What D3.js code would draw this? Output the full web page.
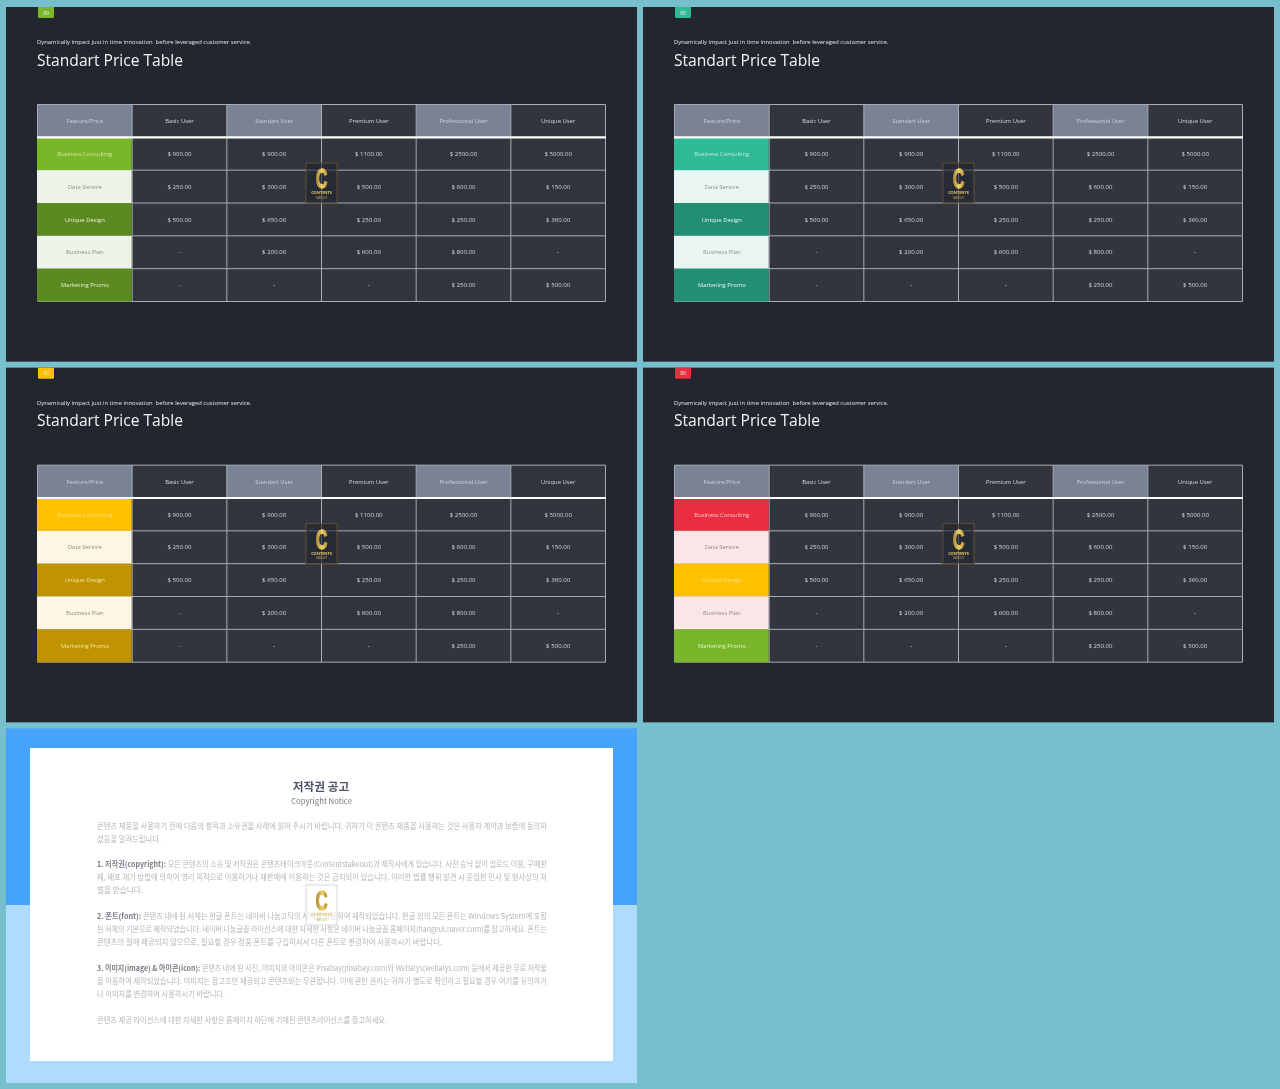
<!DOCTYPE html>
<html>
<head>
<meta charset="utf-8">
<script src="https://cdn.jsdelivr.net/npm/d3@7"></script>
<style>
  html, body { margin: 0; padding: 0; background: #77bfcd; }
  svg { display: block; }
  text { font-family: "Open Sans", sans-serif; }
  .kr text { font-family: "Noto Sans CJK KR", sans-serif; }
  .kr text.en { font-family: "Open Sans", sans-serif; }
  text.logoC { font-family: "Liberation Sans", sans-serif; }
</style>
</head>
<body>
<div id="chart"></div>
<script>
const width = 1280;
const height = 1089;

// table content
const columns = ["Feature/Price", "Basic User", "Standart User", "Premium User", "Professional User", "Unique User"];
const features = ["Business Consulting", "Data Service", "Unique Design", "Business Plan", "Marketing Promo"];
const basicUser = [900, 250, 500, null, null];
const standartUser = [900, 300, 650, 200, null];
const premiumUser = [1100, 500, 250, 600, null];
const professionalUser = [2500, 600, 250, 800, 250];
const uniqueUser = [5000, 150, 360, null, 500];
const priceSeries = [basicUser, standartUser, premiumUser, professionalUser, uniqueUser];

// one colour set per slide
const badgeColors = ["#7ab62a", "#2fba96", "#ffc000", "#ea2f3f"];
const rowColors = [
  ["#7ab62a", "#edf3e8", "#5c8a22", "#edf3e8", "#5c8a22"],
  ["#2fba96", "#e9f5f1", "#248f75", "#e9f5f1", "#248f75"],
  ["#ffc000", "#fff5e5", "#c09300", "#fff5e5", "#c09300"],
  ["#ea2f3f", "#fbe5e6", "#ffc000", "#fbe5e6", "#7ab62a"]
];
const rowTextColors = [
  ["#cfe59a", "#8b9189", "#e6efd2", "#8b9189", "#e6efd2"],
  ["#bfeadd", "#8b9189", "#e0f2ec", "#8b9189", "#e0f2ec"],
  ["#ffe27a", "#8f8b80", "#f5e2a0", "#8f8b80", "#f5e2a0"],
  ["#fbc3c8", "#8f8b8b", "#ffe27a", "#8f8b8b", "#e6efd2"]
];

const subtitle = "Dynamically impact just in time innovation  before leveraged customer service.";
const title = "Standart Price Table";

// notice slide text, line by line as broken in the picture
const noticeLines = [
  ["콘텐츠 제품을 사용하기 전에 다음의 항목과 소유권을 사례에 읽어 주시기 바랍니다. 귀하가 이 콘텐츠 제품을 사용하는 것은 사용자 계약과 보증에 동의하", 826, 450],
  ["셨음을 알려드립니다.", 839, 64],
  ["1. 저작권(copyright):|모든 콘텐츠의 소유 및 저작권은 콘텐츠테이크아웃(Contentstakeout)과 제작사에게 있습니다. 사전 승낙 없이 업로드 이용, 구매한", 864, 450],
  ["제, 배포 재가 방법에 의하여 영리 목적으로 이용하거나 재판매에 이용하는 것은 금지되어 있습니다. 이러한 법률 행위 발견 시 준엄한 민사 및 형사상의 처", 877, 450],
  ["벌을 받습니다.", 890, 46],
  ["2. 폰트(font):|콘텐츠 내에 된 서체는 한글 폰트는 네이버 나눔고딕의 서체를 사용하여 제작되었습니다. 한글 외의 모든 폰트는 Windows System에 포함", 916, 450],
  ["된 서체의 기본으로 제작되었습니다. 네이버 나눔글꼴 라이선스에 대한 자세한 사항은 네이버 나눔글꼴 홈페이지(hangeul.naver.com)를 참고하세요. 폰트는", 929, 450],
  ["콘텐츠의 절에 제공되지 않으므로, 필요할 경우 정품 폰트를 구입하셔서 다른 폰트로 변경하여 사용하시기 바랍니다.", 942, 345],
  ["3. 이미지(image) & 아이콘(icon):|콘텐츠 내에 된 사진, 이미지와 아이콘은 Pixabay(pixabay.com)와 Webalys(webalys.com) 등에서 제공한 무료 저작물", 968, 450],
  ["을 이용하여 제작되었습니다. 이미지는 참고조만 제공되고 콘텐츠와는 무관합니다. 이에 관한 권리는 귀하가 별도로 확인하고 필요할 경우 여기를 유의하거", 981, 450],
  ["나 이미지를 변경하여 사용하시기 바랍니다.", 994, 128],
  ["콘텐츠 제공 라이선스에 대한 자세한 사항은 홈페이지 하단에 기재된 콘텐츠라이선스를 참고하세요.", 1020, 290]
];

const svg = d3.select("#chart")
  .append("svg")
  .attr("width", width)
  .attr("height", height);

const defs = svg.append("defs");
defs.append("filter").attr("id", "soft")
  .append("feGaussianBlur").attr("stdDeviation", 0.3);
defs.append("filter").attr("id", "softer")
  .append("feGaussianBlur").attr("stdDeviation", 0.42);

const goldGrad = defs.append("linearGradient").attr("id", "gold")
  .attr("x1", 0).attr("x2", 1).attr("y1", 0).attr("y2", 0);
goldGrad.append("stop").attr("offset", "0%").attr("stop-color", "#a67f2c");
goldGrad.append("stop").attr("offset", "55%").attr("stop-color", "#f0d36a");
goldGrad.append("stop").attr("offset", "100%").attr("stop-color", "#b48c32");

svg.append("rect").attr("width", width).attr("height", height).attr("fill", "#77bfcd");

// slide grid
const slideX = d3.scaleBand().domain([0, 1]).range([6, 1274]).paddingInner(6 / 637);
const slideY = d3.scaleBand().domain([0, 1, 2]).range([7, 1083]).paddingInner(6 / 361);

// table scales, relative to a slide
const xScale = d3.scaleBand().domain(columns).range([31.5, 599.5]);
const yScale = d3.scaleBand().domain(["header"].concat(features)).range([97.5, 294.5]);
const priceText = v => v === null ? "-" : "$ " + d3.format(".2f")(v);

function drawLogo(g, cx, top, light) {
  const logo = g.append("g").attr("transform", `translate(${cx},${top})`);
  logo.append("rect")
    .attr("x", -15.5).attr("y", 0).attr("width", 31).attr("height", 40)
    .attr("fill", light ? "#ffffff" : "#23262e").attr("fill-opacity", light ? 0.6 : 0.6)
    .attr("stroke", light ? "#d8d8d8" : "#5f5130").attr("stroke-width", 1);
  logo.append("text")
    .attr("class", "logoC")
    .attr("transform", "translate(0,25) scale(0.6,1)")
    .attr("text-anchor", "middle")
    .attr("font-size", 27).attr("font-weight", 700)
    .attr("fill", "url(#gold)")
    .attr("stroke", "url(#gold)").attr("stroke-width", 1.4)
    .text("C");
  logo.append("text")
    .attr("class", "en")
    .attr("x", 0).attr("y", 31).attr("text-anchor", "middle")
    .attr("font-size", 3.9).attr("font-weight", 700)
    .attr("fill", "#e0c468")
    .text("CONTENTS");
  logo.append("text")
    .attr("class", "en")
    .attr("x", 0).attr("y", 35.5).attr("text-anchor", "middle")
    .attr("font-size", 2.6)
    .attr("fill", "#c9a94a")
    .text("TAKEOUT");
}

function drawTableSlide(idx) {
  const g = svg.append("g")
    .attr("transform", `translate(${slideX(idx % 2)},${slideY(Math.floor(idx / 2))})`)
    .attr("filter", "url(#soft)");

  g.append("rect")
    .attr("width", slideX.bandwidth()).attr("height", slideY.bandwidth())
    .attr("fill", "#23262e");

  // page number tab
  g.append("path")
    .attr("d", "M32,0H48V9.5a1.5,1.5 0 0 1 -1.5,1.5H33.5a1.5,1.5 0 0 1 -1.5,-1.5Z")
    .attr("fill", badgeColors[idx]);
  g.append("text")
    .attr("x", 40).attr("y", 7.5).attr("text-anchor", "middle")
    .attr("font-size", 5).attr("fill", "#e8efe0")
    .text("89");

  g.append("text")
    .attr("x", 31).attr("y", 37).attr("font-size", 5.87).attr("fill", "#e4e5e8")
    .style("white-space", "pre")
    .text(subtitle);
  g.append("text")
    .attr("x", 31).attr("y", 58.5).attr("font-size", 15.6).attr("fill", "#f2f3f4")
    .text(title);

  // background for all cells
  g.append("rect")
    .attr("x", xScale.range()[0]).attr("y", yScale.range()[0])
    .attr("width", xScale.range()[1] - xScale.range()[0])
    .attr("height", yScale.range()[1] - yScale.range()[0])
    .attr("fill", "#30343e");

  // header row
  g.selectAll(".head")
    .data(columns)
    .enter()
    .append("rect")
    .attr("class", "head")
    .attr("x", d => xScale(d))
    .attr("y", yScale("header"))
    .attr("width", xScale.bandwidth())
    .attr("height", yScale.bandwidth())
    .attr("fill", (d, i) => i % 2 === 0 ? "#7a8296" : "#30343e");

  // grid lines
  const gridColor = "#a9acb4";
  g.selectAll(".vline")
    .data(xScale.domain().slice(1).map(d => xScale(d)).concat(xScale.range()))
    .enter()
    .append("line")
    .attr("class", "vline")
    .attr("x1", d => d).attr("x2", d => d)
    .attr("y1", yScale.range()[0]).attr("y2", yScale.range()[1])
    .attr("stroke", gridColor).attr("stroke-width", 1);

  g.selectAll(".hline")
    .data(features.slice(1).map(d => yScale(d)).concat(yScale.range()))
    .enter()
    .append("line")
    .attr("class", "hline")
    .attr("x1", xScale.range()[0]).attr("x2", xScale.range()[1])
    .attr("y1", d => d).attr("y2", d => d)
    .attr("stroke", gridColor).attr("stroke-width", 1);

  // first column goes over the grid lines
  g.selectAll(".feature")
    .data(features)
    .enter()
    .append("rect")
    .attr("class", "feature")
    .attr("x", xScale(columns[0]) - 0.5)
    .attr("y", d => yScale(d))
    .attr("width", xScale.bandwidth())
    .attr("height", yScale.bandwidth())
    .attr("fill", (d, i) => rowColors[idx][i]);

  g.append("line")
    .attr("x1", xScale.range()[0] - 0.5).attr("x2", xScale.range()[1] + 0.5)
    .attr("y1", yScale(features[0])).attr("y2", yScale(features[0]))
    .attr("stroke", "#ffffff").attr("stroke-width", 2.2);

  g.selectAll(".headText")
    .data(columns)
    .enter()
    .append("text")
    .attr("class", "headText")
    .attr("x", d => xScale(d) + xScale.bandwidth() / 2)
    .attr("y", yScale("header") + yScale.bandwidth() / 2 + 2.2)
    .attr("text-anchor", "middle")
    .attr("font-size", 5.9)
    .attr("fill", (d, i) => i % 2 === 0 ? "#ccd0da" : "#d6d8de")
    .text(d => d);

  g.selectAll(".featureText")
    .data(features)
    .enter()
    .append("text")
    .attr("class", "featureText")
    .attr("x", xScale(columns[0]) + xScale.bandwidth() / 2)
    .attr("y", d => yScale(d) + yScale.bandwidth() / 2 + 2.2)
    .attr("text-anchor", "middle")
    .attr("font-size", 5.9)
    .attr("fill", (d, i) => rowTextColors[idx][i])
    .text(d => d);

  // prices
  priceSeries.forEach((series, c) => {
    g.selectAll(".price" + c)
      .data(series)
      .enter()
      .append("text")
      .attr("class", "price" + c)
      .attr("x", xScale(columns[c + 1]) + xScale.bandwidth() / 2)
      .attr("y", (d, i) => yScale(features[i]) + yScale.bandwidth() / 2 + 2.2)
      .attr("text-anchor", "middle")
      .attr("font-size", 6.1)
      .attr("fill", "#d6d8de")
      .text(priceText);
  });

  drawLogo(g, 315.5, 156, false);
}

d3.range(4).forEach(drawTableSlide);

// notice slide
const nx = slideX(0);
const ny = slideY(2);
const nw = slideX.bandwidth();
const nh = slideY.bandwidth();
const notice = svg.append("g").attr("class", "kr");
notice.append("rect").attr("x", nx).attr("y", ny).attr("width", nw).attr("height", nh).attr("fill", "#45a3fb");
notice.append("rect").attr("x", nx).attr("y", 905).attr("width", nw).attr("height", ny + nh - 905).attr("fill", "#afdcfd");
notice.append("rect").attr("x", 30).attr("y", 748).attr("width", 583).attr("height", 313).attr("fill", "#ffffff");

const noticeText = notice.append("g").attr("filter", "url(#softer)");
noticeText.append("text")
  .attr("x", 321).attr("y", 790.5).attr("text-anchor", "middle")
  .attr("font-size", 11.7).attr("font-weight", 700).attr("fill", "#4f5566")
  .text("저작권 공고");
noticeText.append("text")
  .attr("x", 321.5).attr("y", 804).attr("text-anchor", "middle")
  .attr("font-size", 7.8).attr("fill", "#777b85")
  .text("Copyright Notice");

noticeLines.forEach(([line, y, w]) => {
  const t = noticeText.append("text")
    .attr("x", 97).attr("y", y + 3)
    .attr("font-size", 7.6).attr("fill", "#b4b6ba")
    .attr("textLength", w).attr("lengthAdjust", "spacingAndGlyphs");
  const parts = line.split("|");
  if (parts.length > 1) {
    t.append("tspan").attr("font-weight", 700).attr("fill", "#7a7e88").text(parts[0] + " ");
    t.append("tspan").text(parts[1]);
  } else {
    t.text(line);
  }
});

drawLogo(notice.append("g").attr("filter", "url(#soft)"), 321.5, 885, true);
</script>
</body>
</html>
